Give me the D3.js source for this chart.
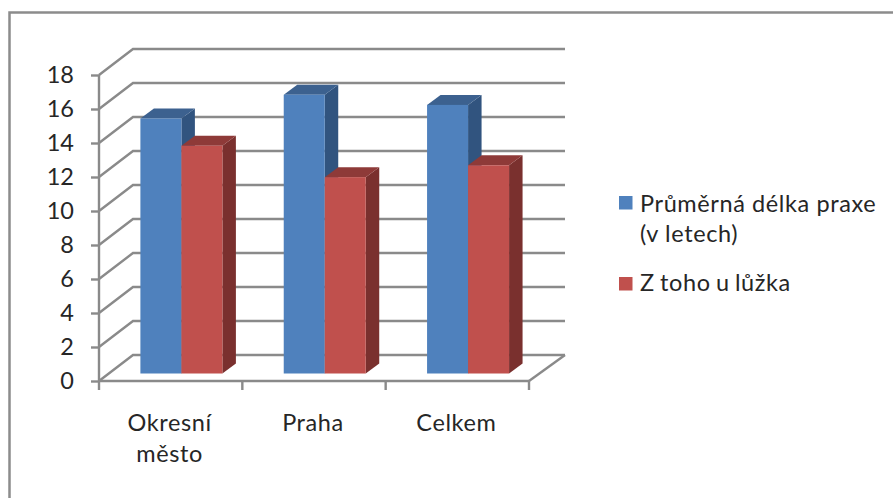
<!DOCTYPE html>
<html lang="cs">
<head>
<meta charset="utf-8">
<script src="https://cdn.jsdelivr.net/npm/d3@7"></script>
<style>
  html, body { margin: 0; background: #fff; }
  svg { display: block; }
  text { font-family: Lato, "Open Sans", sans-serif; fill: #262626; }
</style>
</head>
<body>
<svg id="chart" width="893" height="498"></svg>
<script>
const categories = ["Okresní město", "Praha", "Celkem"];
const praxe = [15, 16.4, 15.8];
const uLuzka = [13.4, 11.55, 12.25];
const yTicks = [0, 2, 4, 6, 8, 10, 12, 14, 16, 18];
const legendLines = [["Průměrná délka praxe", "(v letech)"], ["Z toho u lůžka"]];
const seriesColors = [
  { front: "#4f81bd", top: "#3c618f", side: "#31547f" },
  { front: "#c0504d", top: "#8e3a38", side: "#7a302e" }
];
const seriesValues = [praxe, uLuzka];

const svg = d3.select("#chart");
const gridColor = "#8a8a8a";
const labelSize = 23.5;
const labelSpacing = 0.6;

// Outer frame: only the top and left edges fall inside the canvas
svg.append("path")
  .attr("d", "M9.5,498V12.5H893")
  .attr("fill", "none").attr("stroke", "#8c8c8c").attr("stroke-width", 2.5);

// Front plane of the 3D box
const x = d3.scaleBand().domain(categories).range([99, 529]);
const y = d3.scaleLinear().domain([0, 18]).range([381, 75]);

// Projection of the box depth on screen
const wall = { dx: 34, dy: -26 };
const barInset = { dx: 9.8, dy: -7.5 };
const barDepth = { dx: 13.5, dy: -10 };
const barLeft = 31.6;
const barWidth = 41;

const walls = svg.append("g")
  .attr("fill", "none").attr("stroke", gridColor).attr("stroke-width", 2.4);

// Gridlines run along the side wall, then across the back wall
walls.selectAll("path.grid").data(yTicks).join("path")
  .attr("class", "grid")
  .attr("d", d => {
    const py = y(d);
    return `M${x.range()[0]},${py}l${wall.dx},${wall.dy}H${x.range()[1] + wall.dx + 2}`;
  });

// Front-right edge of the floor
walls.append("path")
  .attr("d", `M${x.range()[1]},${y(0)}l${wall.dx + 2},${wall.dy}`);

// Bars, drawn back to front within each category
categories.forEach((cat, ci) => {
  seriesValues.forEach((vals, si) => {
    const c = seriesColors[si];
    const x0 = x(cat) + barLeft + barInset.dx + si * barWidth;
    const x1 = x0 + barWidth;
    const yb = y(0) + barInset.dy;
    const yt = y(vals[ci]) + barInset.dy;
    const g = svg.append("g").attr("class", "bar");
    g.append("polygon").attr("fill", c.side)
      .attr("points", [[x1, yt], [x1 + barDepth.dx, yt + barDepth.dy], [x1 + barDepth.dx, yb + barDepth.dy], [x1, yb]].join(" "));
    g.append("polygon").attr("fill", c.top)
      .attr("points", [[x0, yt], [x0 + barDepth.dx, yt + barDepth.dy], [x1 + barDepth.dx, yt + barDepth.dy], [x1, yt]].join(" "));
    g.append("rect").attr("fill", c.front)
      .attr("x", x0).attr("y", yt).attr("width", barWidth).attr("height", yb - yt);
  });
});

// Value axis
const yAxis = svg.append("g")
  .attr("transform", `translate(${x.range()[0]},0)`)
  .call(d3.axisLeft(y).tickValues(yTicks).tickSize(8).tickPadding(17).tickFormat(d3.format("d")));
yAxis.selectAll("line, path").attr("stroke", gridColor).attr("stroke-width", 2.4);
yAxis.select(".domain").attr("d", `M0,${y(18)}V${y(0)}`);
yAxis.selectAll("text").attr("font-size", labelSize).attr("font-family", "Lato").attr("fill", "#262626");

// Category axis with separators between the groups
const boundaries = [0, 1, 2, 3].map(i => x.range()[0] + i * x.step());
svg.append("line").attr("x1", x.range()[0]).attr("x2", x.range()[1])
  .attr("y1", y(0)).attr("y2", y(0)).attr("stroke", gridColor).attr("stroke-width", 2.4);
svg.selectAll("line.sep").data(boundaries).join("line")
  .attr("class", "sep").attr("x1", d => d).attr("x2", d => d)
  .attr("y1", y(0)).attr("y2", y(0) + 9)
  .attr("stroke", gridColor).attr("stroke-width", 2.4);

const catLabels = svg.selectAll("text.cat").data(categories).join("text")
  .attr("class", "cat").attr("text-anchor", "middle").attr("font-size", labelSize)
  .attr("letter-spacing", labelSpacing);
catLabels.each(function (d) {
  const sel = d3.select(this);
  d.split(" ").forEach((w, i) => {
    sel.append("tspan").attr("x", x(d) + x.bandwidth() / 2 - 1).attr("y", 431 + i * 31).text(w);
  });
});

// Legend
const legendRows = [{ sw: 196, lines: [212, 242], wordGap: 0 }, { sw: 277, lines: [291], wordGap: -1.3 }];
legendRows.forEach((row, i) => {
  svg.append("rect").attr("x", 619).attr("y", row.sw).attr("width", 13.5).attr("height", 13.5)
    .attr("fill", seriesColors[i].front);
  legendLines[i].forEach((t, j) => {
    svg.append("text").attr("x", 640).attr("y", row.lines[j])
      .attr("font-size", labelSize).attr("letter-spacing", labelSpacing)
      .attr("word-spacing", row.wordGap).text(t);
  });
});
</script>
</body>
</html>
